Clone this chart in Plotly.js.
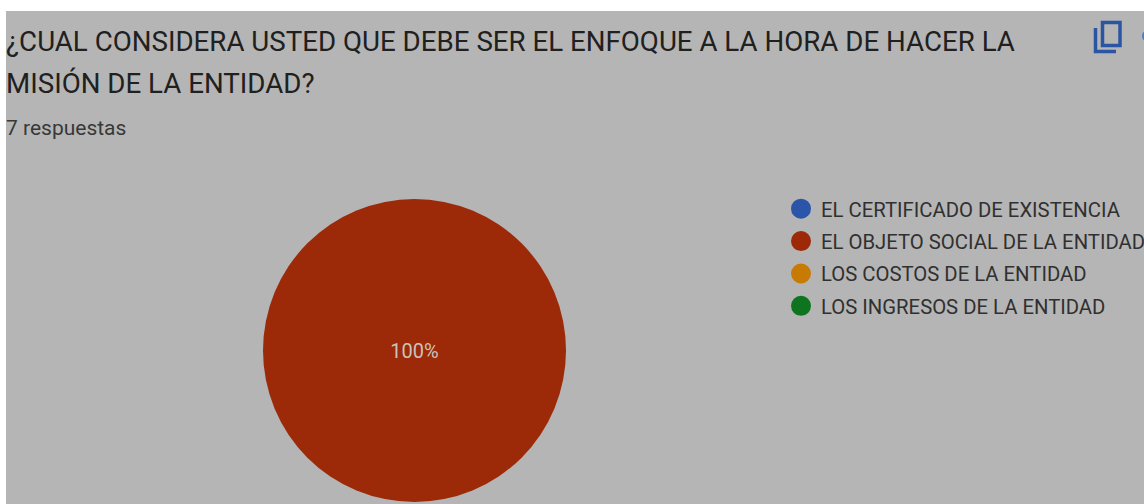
<!DOCTYPE html>
<html><head><meta charset="utf-8">
<script src="https://cdn.plot.ly/plotly-3.0.1.min.js"></script>
<style>html,body{margin:0;padding:0;background:#fff;overflow:hidden}</style>
</head><body><div id="chart" style="width:1144px;height:504px"></div>
<script>
const categories = ["EL CERTIFICADO DE EXISTENCIA","EL OBJETO SOCIAL DE LA ENTIDAD","LOS COSTOS DE LA ENTIDAD","LOS INGRESOS DE LA ENTIDAD"];
const responses = [0,7,0,0];
const colors = ["#2a55a8","#9c2907","#c77a04","#0f7420"];
const titleLines = ["¿CUAL CONSIDERA USTED QUE DEBE SER EL ENFOQUE A LA HORA DE HACER LA","MISIÓN DE LA ENTIDAD?"];
const subtitle = "7 respuestas";
const W=1144,H=504;
const px=x=>x/W, py=y=>1-y/H;
const font="Roboto, sans-serif";
const pie={type:"pie",labels:categories,values:responses,sort:false,direction:"clockwise",
  marker:{colors:colors,line:{width:0}},textinfo:"percent",textposition:"inside",insidetextorientation:"horizontal",
  insidetextfont:{family:font,size:20,color:"#c9c2bc"},showlegend:false,hoverinfo:"label+percent",
  domain:{x:[px(263),px(566)],y:[py(502),py(199)]}};
const legendTraces=categories.map((c,i)=>({type:"scatter",mode:"markers",x:[null],y:[null],name:c,legendgroup:c,
  marker:{size:16,color:colors[i],line:{width:4,color:colors[i]}},showlegend:true,hoverinfo:"skip"}));
const txt=(t,x,y,size,color)=>({text:t,x:px(x),y:py(y),xref:"paper",yref:"paper",xanchor:"left",yanchor:"middle",showarrow:false,align:"left",font:{family:font,size:size,color:color}});
const blue="#2a55a3";
const layout={width:W,height:H,margin:{l:0,r:0,t:0,b:0,autoexpand:false},paper_bgcolor:"#ffffff",plot_bgcolor:"rgba(0,0,0,0)",
  xaxis:{visible:false},yaxis:{visible:false},
  legend:{x:px(781),y:py(189),xanchor:"left",yanchor:"top",bgcolor:"rgba(0,0,0,0)",font:{family:font,size:20.3,color:"#303030"},tracegroupgap:3,itemclick:false,itemdoubleclick:false},
  annotations:[txt(titleLines[0],4,41,27.7,"#202020"),txt(titleLines[1],4,84,27.7,"#202020"),txt(subtitle,4,128,21,"#383838")],
  shapes:[
   {type:"rect",layer:"below",xref:"paper",yref:"paper",x0:px(6),x1:1,y0:0,y1:py(11),fillcolor:"#b5b5b5",line:{width:0}},
   {type:"rect",xref:"paper",yref:"paper",x0:px(1102.5),x1:px(1120),y0:py(45.5),y1:py(22.5),line:{color:blue,width:3.5},fillcolor:"rgba(0,0,0,0)"},
   {type:"path",xref:"paper",yref:"paper",path:`M ${px(1095.5)} ${py(28)} L ${px(1095.5)} ${py(51.5)} L ${px(1116)} ${py(51.5)}`,line:{color:blue,width:3.5}},
   {type:"circle",xref:"paper",yref:"paper",x0:px(1142),x1:px(1150),y0:py(41),y1:py(31),fillcolor:"#4a7fc0",line:{width:0}}
  ]};
Plotly.newPlot("chart",[pie].concat(legendTraces),layout,{displayModeBar:false,staticPlot:false});
</script></body></html>
